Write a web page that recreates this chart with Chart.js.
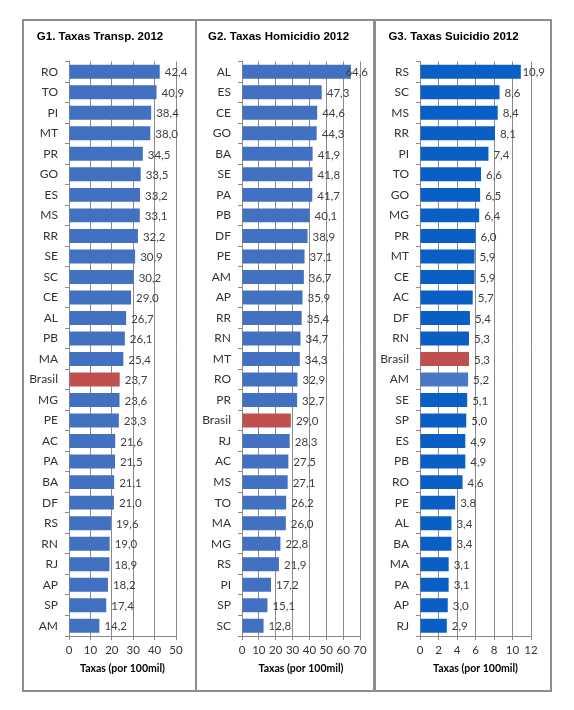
<!DOCTYPE html>
<html>
<head>
<meta charset="utf-8">
<script src="https://cdn.jsdelivr.net/npm/chart.js@4.4.1/dist/chart.umd.min.js"></script>
<style>
  body { margin: 0; background: #fff; width: 574px; height: 710px; position: relative; overflow: hidden; }
  .panel { position: absolute; top: 19px; height: 673px; box-sizing: border-box; border: 2px solid #8e8e8e; background: #fff; }
  canvas { display: block; }
</style>
</head>
<body>
<div class="panel" style="left:22px;width:175px"><canvas id="c1" width="171" height="669"></canvas></div>
<div class="panel" style="left:195px;width:180px"><canvas id="c2" width="176" height="669"></canvas></div>
<div class="panel" style="left:374px;width:178px"><canvas id="c3" width="174" height="669"></canvas></div>
<script>
// G1 - transito
const transpStates = ['RO','TO','PI','MT','PR','GO','ES','MS','RR','SE','SC','CE','AL','PB','MA','Brasil',
  'MG','PE','AC','PA','BA','DF','RS','RN','RJ','AP','SP','AM'];
const transpRates = [42.4,40.9,38.4,38.0,34.5,33.5,33.2,33.1,32.2,30.9,30.2,29.0,26.7,26.1,25.4,23.7,
  23.6,23.3,21.6,21.5,21.1,21.0,19.6,19.0,18.9,18.2,17.4,14.2];

// G2 - homicidio
const homicStates = ['AL','ES','CE','GO','BA','SE','PA','PB','DF','PE','AM','AP','RR','RN','MT','RO','PR',
  'Brasil','RJ','AC','MS','TO','MA','MG','RS','PI','SP','SC'];
const homicRates = [64.6,47.3,44.6,44.3,41.9,41.8,41.7,40.1,38.9,37.1,36.7,35.9,35.4,34.7,34.3,32.9,32.7,
  29.0,28.3,27.5,27.1,26.2,26.0,22.8,21.9,17.2,15.1,12.8];

// G3 - suicidio
const suicStates = ['RS','SC','MS','RR','PI','TO','GO','MG','PR','MT','CE','AC','DF','RN','Brasil','AM',
  'SE','SP','ES','PB','RO','PE','AL','BA','MA','PA','AP','RJ'];
const suicRates = [10.9,8.6,8.4,8.1,7.4,6.6,6.5,6.4,6.0,5.9,5.9,5.7,5.4,5.3,5.3,5.2,
  5.1,5.0,4.9,4.9,4.6,3.8,3.4,3.4,3.1,3.1,3.0,2.9];

const axisMax = [50, 70, 12];
const axisStep = [10, 10, 2];
const titles = ['G1. Taxas Transp. 2012', 'G2. Taxas Homicidio 2012', 'G3. Taxas Suicidio 2012'];
const axisTitle = 'Taxas (por 100mil)';

const gridGray = '#8a8a8a';
const red = '#C0504D';

// rotulos de valor no fim das barras
const valueLabels = {
  id: 'valueLabels',
  afterDatasetsDraw(chart) {
    const ctx = chart.ctx;
    const meta = chart.getDatasetMeta(0);
    const data = chart.data.datasets[0].data;
    ctx.save();
    ctx.font = '11.5px Lato';
    ctx.fillStyle = '#404040';
    ctx.textAlign = 'left';
    ctx.textBaseline = 'middle';
    meta.data.forEach((bar, i) => {
      const txt = data[i].toFixed(1).replace('.', ',');
      const w = ctx.measureText(txt).width;
      // como no Excel, o rotulo e puxado pra dentro se nao couber
      const x = Math.min(bar.x + 5, chart.width - 5 - w);
      ctx.fillText(txt, x, bar.y + 1);
    });
    ctx.restore();
  }
};

function makeChart(id, n, labels, values, colors, plotLeft, rightPad) {
  const ctx = document.getElementById(id).getContext('2d');
  return new Chart(ctx, {
    type: 'bar',
    data: {
      labels: labels,
      datasets: [{
        data: values,
        backgroundColor: colors,
        borderWidth: 0,
        barPercentage: 0.68,
        categoryPercentage: 1
      }]
    },
    options: {
      indexAxis: 'y',
      responsive: false,
      animation: false,
      layout: { padding: { left: 0, right: rightPad, top: 0, bottom: 0 } },
      plugins: {
        legend: { display: false },
        tooltip: { enabled: false },
        title: {
          display: true,
          text: titles[n],
          color: '#000',
          font: { family: 'Liberation Sans', size: 11.5, weight: 'bold' },
          padding: { top: 9, bottom: 17.7 }
        }
      },
      scales: {
        x: {
          min: 0,
          max: axisMax[n],
          ticks: {
            stepSize: axisStep[n], color: '#333', padding: 3,
            autoSkip: false, maxRotation: 0, minRotation: 0,
            font: { family: 'Lato', size: 11.5 }
          },
          grid: { color: gridGray, tickLength: 4 },
          border: { color: gridGray },
          title: {
            display: true,
            text: axisTitle,
            color: '#000',
            font: { family: 'Lato', size: 10.5, weight: 'bold' },
            padding: { top: 0, bottom: 15 }
          },
          afterFit: s => { s.height = 54; }
        },
        y: {
          ticks: { color: '#333', padding: 7, font: { family: 'Lato', size: 12 } },
          grid: { drawOnChartArea: false, color: gridGray, tickLength: 4 },
          border: { color: gridGray },
          afterFit: s => { s.width = plotLeft; }
        }
      }
    },
    plugins: [valueLabels]
  });
}

const blue12 = '#4271C2';
const blue3 = '#0A5FC4';
const colors1 = transpStates.map(s => s === 'Brasil' ? red : blue12);
const colors2 = homicStates.map(s => s === 'Brasil' ? red : blue12);
const colors3 = suicStates.map(s => s === 'Brasil' ? red : (s === 'AM' ? '#4A78C6' : blue3));

makeChart('c1', 0, transpStates, transpRates, colors1, 45, 19);
makeChart('c2', 1, homicStates, homicRates, colors2, 45, 13);
makeChart('c3', 2, suicStates, suicRates, colors3, 44, 19);
</script>
</body>
</html>
